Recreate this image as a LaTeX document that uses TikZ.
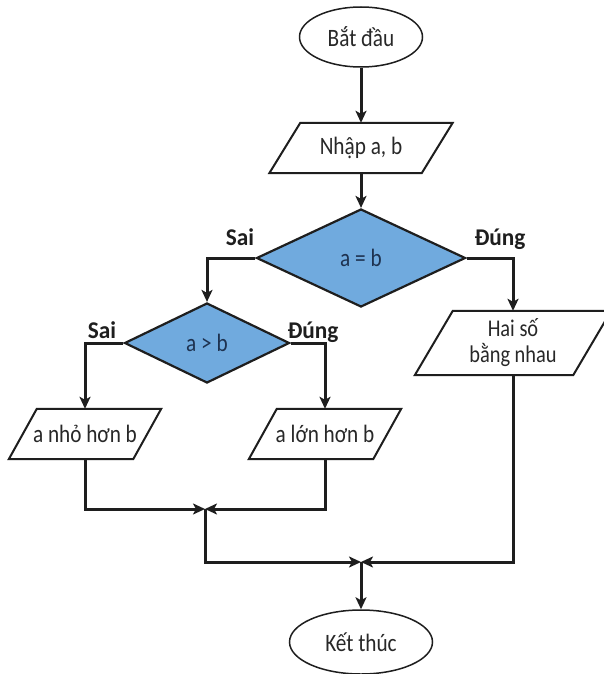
\documentclass[tikz,border=0pt]{standalone}
\usepackage{fontspec}
\setmainfont{Carlito}[FakeStretch=0.85,BoldFeatures={FakeStretch=0.97}]
\usetikzlibrary{shapes.geometric,arrows.meta}
\definecolor{dfill}{RGB}{112,170,222}
\definecolor{dtext}{RGB}{30,50,80}
\definecolor{txt}{RGB}{40,40,40}
\definecolor{ink}{RGB}{30,30,30}
\newcommand\iobox[2]{\draw[iobd] ([xshift=-#2pt]#1.south west) -- ([xshift=#2pt]#1.north west) -- ([xshift=#2pt]#1.north east) -- ([xshift=-#2pt]#1.south east) -- cycle;}
\begin{document}
\begin{tikzpicture}[x=1pt,y=-1pt,
  every node/.style={font=\fontsize{25}{22}\selectfont, text=txt, inner sep=0pt},
  term/.style={ellipse, draw=ink, line width=1.5pt},
  dec/.style={diamond, draw=ink, fill=dfill, line width=2.2pt, text=dtext},
  iobd/.style={draw=ink, line width=2pt},
  lbl/.style={font=\bfseries\fontsize{24}{24}\selectfont, text=ink, anchor=base},
  flow/.style={draw=ink, line width=3pt, -{Stealth[length=12pt,width=11pt,inset=3pt]}}]
\fill[white] (0,0) rectangle (603,674);
\useasboundingbox (0,0) rectangle (603,674);
% nodes
\node[term, minimum width=123, minimum height=60] (start) at (361,37) {Bắt đầu};
\node[minimum width=152, minimum height=50] (inp) at (361,148) {Nhập a, b};
\iobox{inp}{15.5}
\node[dec, minimum width=209, minimum height=98] (ab) at (361,258) {a = b};
\node[dec, minimum width=165, minimum height=80] (agb) at (207,343) {a > b};
\node[minimum width=158, minimum height=64, align=center, font=\fontsize{24}{26}\selectfont] (hai) at (513,343) {Hai số\\bằng nhau};
\iobox{hai}{19}
\node[minimum width=124, minimum height=50] (nho) at (85,434) {a nhỏ hơn b};
\iobox{nho}{14}
\node[minimum width=124, minimum height=50] (lon) at (325,434) {a lớn hơn b};
\iobox{lon}{14}
\coordinate (j1) at (205,509);
\coordinate (j2) at (361,562);
\node[term, minimum width=143, minimum height=64] (end) at (361,642) {Kết thúc};
% labels
\node[lbl] (s1) at (240,245) {Sai};
\node[lbl] (d1) at (500,245) {Đúng};
\node[lbl] (s2) at (102,338) {Sai};
\node[lbl] (d2) at (313,338) {Đúng};
% connectors
\draw[flow] (start) -- (inp);
\draw[flow] (inp) -- (ab);
\draw[flow] (ab.west) -| (agb.north);
\draw[flow] (ab.east) -| (hai.north);
\draw[flow] (agb.west) -| (nho.north);
\draw[flow] (agb.east) -| (lon.north);
\draw[flow] (nho.south) |- (j1);
\draw[flow] (lon.south) |- (j1);
\draw[flow] (j1) |- (j2);
\draw[flow] (hai.south) |- (j2);
\draw[flow] (j2) -- (end.north);
\end{tikzpicture}
\end{document}
